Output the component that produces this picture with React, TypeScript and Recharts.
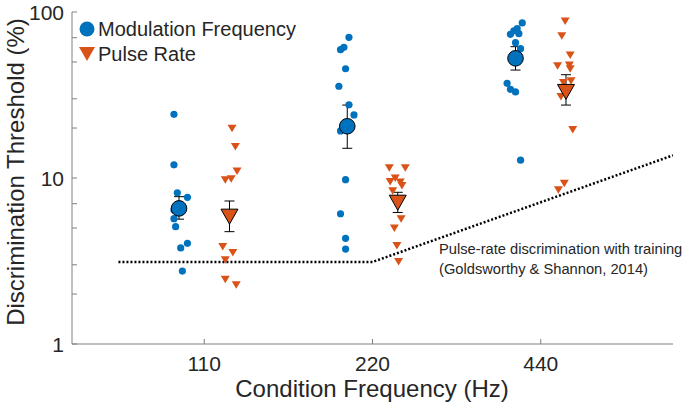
import { ComposedChart, Scatter, Line, XAxis, YAxis, ErrorBar, Label } from "recharts";

const categories = ["110", "220", "440"];
const seriesNames = ["Modulation Frequency", "Pulse Rate"];

// individual thresholds (%) per condition frequency
const modFreqPoints = [
  [24.2, 12.0, 8.15, 7.65, 6.41, 5.69, 5.09, 4.04, 3.79, 2.75],
  [70.4, 61.3, 59.3, 45.5, 35.7, 27.6, 24.0, 19.2, 9.77, 6.09, 4.33, 3.73],
  [85.9, 79.4, 77.1, 73.4, 74.0, 65.3, 60.1, 37.2, 34.2, 33.0, 12.8],
];
const modFreqJitter = [
  [-0.18, -0.18, -0.16, -0.1, -0.18, -0.18, -0.17, -0.1, -0.14, -0.13],
  [-0.14, -0.17, -0.19, -0.16, -0.2, -0.14, -0.11, -0.19, -0.16, -0.19, -0.16, -0.16],
  [-0.11, -0.14, -0.16, -0.18, -0.13, -0.15, -0.12, -0.2, -0.18, -0.15, -0.12],
];
const pulseRatePoints = [
  [19.9, 15.4, 11.0, 9.73, 9.86, 3.86, 3.55, 3.21, 2.45, 2.27],
  [11.5, 11.5, 9.96, 9.5, 9.42, 8.99, 8.35, 5.66, 4.98, 3.91, 3.13],
  [87.9, 71.7, 54.8, 47.3, 47.7, 45.4, 38.4, 37.5, 30.9, 19.5, 9.25, 8.47],
];
const pulseRateJitter = [
  [0.165, 0.185, 0.195, 0.125, 0.16, 0.11, 0.17, 0.125, 0.125, 0.19],
  [0.1, 0.195, 0.135, 0.105, 0.165, 0.175, 0.12, 0.17, 0.13, 0.145, 0.155],
  [0.145, 0.125, 0.175, 0.1, 0.17, 0.175, 0.18, 0.135, 0.12, 0.19, 0.14, 0.105],
];

// group means with error range
const modFreqMean = [6.56, 20.5, 52.6];
const modFreqLow = [5.65, 15.1, 44.7];
const modFreqHigh = [7.72, 27.5, 61.8];
const pulseRateMean = [5.85, 7.1, 33.0];
const pulseRateLow = [4.75, 6.2, 27.5];
const pulseRateHigh = [7.27, 8.2, 41.9];

// Goldsworthy & Shannon (2014) training line
const trainingX = [0.49, 2.0, 3.786];
const trainingY = [3.12, 3.12, 13.7];

const yTicks = [1, 2, 3, 4, 5, 6, 7, 8, 9, 10, 20, 30, 40, 50, 60, 70, 80, 90, 100];
const majorTicks = [1, 10, 100];

const BLUE = "#0072BD";
const ORANGE = "#D95319";
const FONT = "Liberation Sans, Arial, sans-serif";
const TEXT = "#262626";
const AXIS = "#808080";
const OFFSET = 0.15;

const toPoints = (vals: number[][], jit: number[][]) =>
  vals.flatMap((list, i) => list.map((v, j) => ({ x: i + 1 + jit[i][j], y: v })));

const toMeans = (mean: number[], low: number[], high: number[], side: number) =>
  mean.map((m, i) => ({ x: i + 1 + side * OFFSET, y: m, err: [m - low[i], high[i] - m] }));

const modPts = toPoints(modFreqPoints, modFreqJitter);
const pulsePts = toPoints(pulseRatePoints, pulseRateJitter);
const modMeans = toMeans(modFreqMean, modFreqLow, modFreqHigh, -1);
const pulseMeans = toMeans(pulseRateMean, pulseRateLow, pulseRateHigh, 1);
const training = trainingX.map((x, i) => ({ x, y: trainingY[i] }));

const tri = (cx: number, cy: number, w: number, h: number) =>
  `${cx - w / 2},${cy - h / 2} ${cx + w / 2},${cy - h / 2} ${cx},${cy + h / 2}`;

const SmallDot = (p: any) => <circle cx={p.cx} cy={p.cy} r={3.6} fill={BLUE} />;
const SmallTri = (p: any) => <polygon points={tri(p.cx, p.cy, 9, 7.5)} fill={ORANGE} />;
const BigDot = (p: any) => (
  <circle cx={p.cx} cy={p.cy} r={7.8} fill={BLUE} stroke="#000" strokeWidth={1} />
);
const BigTri = (p: any) => (
  <polygon points={tri(p.cx, p.cy, 17, 15)} fill={ORANGE} stroke="#000" strokeWidth={1} />
);

const YTick = (p: any) => {
  const v = p.payload.value;
  const ax = p.x + 8;
  return (
    <g>
      <line x1={ax} x2={ax + 5} y1={p.y} y2={p.y} stroke={AXIS} />
      {majorTicks.includes(v) && (
        <text x={p.x} y={p.y} dy="0.36em" textAnchor="end" fontSize={21} fontFamily={FONT} fill={TEXT}>
          {v}
        </text>
      )}
    </g>
  );
};

const XTick = (p: any) => {
  const ay = p.y - 12;
  return (
    <g>
      <line x1={p.x} x2={p.x} y1={ay} y2={ay - 5} stroke={AXIS} />
      <text x={p.x} y={p.y} dy="0.71em" textAnchor="middle" fontSize={21} fontFamily={FONT} fill={TEXT}>
        {categories[p.payload.value - 1]}
      </text>
    </g>
  );
};

export default function App() {
  return (
    <div style={{ position: "absolute", left: 0, top: 0 }}>
      <ComposedChart width={685} height={411} margin={{ top: 12, right: 12, left: 0, bottom: 0 }}>
        <XAxis
          type="number"
          dataKey="x"
          domain={[0.214, 3.786]}
          ticks={[1, 2, 3]}
          allowDataOverflow
          height={67}
          tickSize={0}
          tickMargin={12}
          tickLine={false}
          axisLine={{ stroke: AXIS }}
          tick={<XTick />}
        >
          <Label
            content={() => (
              <text x={372} y={388} dy="0.36em" textAnchor="middle" fontSize={24} fontFamily={FONT} fill={TEXT}>
                Condition Frequency (Hz)
              </text>
            )}
          />
        </XAxis>
        <YAxis
          type="number"
          scale="log"
          domain={[1, 100]}
          ticks={yTicks}
          allowDataOverflow
          width={72}
          tickSize={0}
          tickMargin={8}
          tickLine={false}
          axisLine={{ stroke: AXIS }}
          tick={<YTick />}
        >
          <Label
            content={() => (
              <text
                x={15}
                y={172}
                dy="0.36em"
                transform="rotate(-90 15 172)"
                textAnchor="middle"
                fontSize={24}
                fontFamily={FONT}
                fill={TEXT}
              >
                Discrimination Threshold (%)
              </text>
            )}
          />
        </YAxis>
        <Line
          data={training}
          dataKey="y"
          stroke="#000"
          strokeWidth={2.5}
          strokeDasharray="2 2"
          dot={false}
          isAnimationActive={false}
        />
        <Scatter data={modPts} dataKey="y" shape={<SmallDot />} isAnimationActive={false} />
        <Scatter data={pulsePts} dataKey="y" shape={<SmallTri />} isAnimationActive={false} />
        <Scatter data={modMeans} dataKey="y" shape={<BigDot />} isAnimationActive={false}>
          <ErrorBar dataKey="err" direction="y" width={5} stroke="#000" strokeWidth={1} />
        </Scatter>
        <Scatter data={pulseMeans} dataKey="y" shape={<BigTri />} isAnimationActive={false}>
          <ErrorBar dataKey="err" direction="y" width={5} stroke="#000" strokeWidth={1} />
        </Scatter>
        <text x={439} y={249} dy="0.36em" fontSize={14.7} fontFamily={FONT} fill={TEXT}>
          Pulse-rate discrimination with training
        </text>
        <text x={439} y={269} dy="0.36em" fontSize={14.7} fontFamily={FONT} fill={TEXT}>
          (Goldsworthy &amp; Shannon, 2014)
        </text>
        <g>
          <circle cx={87} cy={29} r={7.5} fill={BLUE} />
          <text x={98} y={29} dy="0.36em" fontSize={20} fontFamily={FONT} fill={TEXT}>
            {seriesNames[0]}
          </text>
          <polygon points={tri(87, 54, 16, 14)} fill={ORANGE} />
          <text x={98} y={54} dy="0.36em" fontSize={20} fontFamily={FONT} fill={TEXT}>
            {seriesNames[1]}
          </text>
        </g>
      </ComposedChart>
    </div>
  );
}
